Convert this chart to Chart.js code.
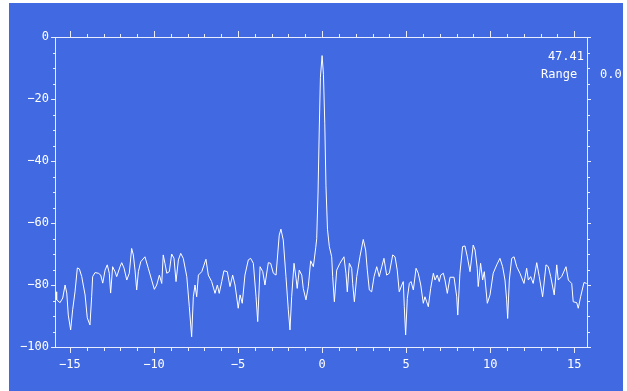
<!DOCTYPE html>
<html>
<head>
<meta charset="utf-8">
<title>Spectrum</title>
<script src="https://cdn.jsdelivr.net/npm/chart.js@4.4.1/dist/chart.umd.min.js"></script>
<style>
  html, body { margin: 0; padding: 0; background: #ffffff; }
  #wrap {
    position: absolute;
    left: 9px;
    top: 3px;
    width: 614px;
    height: 388px;
    background: #4169e1;
  }
</style>
</head>
<body>
<div id="wrap"><canvas id="spectrumChart"></canvas></div>
<script>
// --- DATA ---
const freqs = [
  -15.83, -15.79, -15.59, -15.43, -15.29, -15.19, -15.10, -14.96, -14.84, -14.70,
  -14.56, -14.44, -14.30, -14.21, -14.10, -13.97, -13.81, -13.71, -13.65, -13.51,
  -13.31, -13.17, -13.05, -12.91, -12.78, -12.66, -12.58, -12.46, -12.32, -12.22,
  -12.02, -11.92, -11.78, -11.62, -11.47, -11.33, -11.23, -11.13, -11.03, -10.93,
  -10.79, -10.54, -10.34, -10.14, -9.98, -9.84, -9.68, -9.54, -9.45, -9.35,
  -9.24, -9.09, -8.95, -8.81, -8.69, -8.55, -8.41, -8.26, -8.05, -7.90,
  -7.76, -7.66, -7.56, -7.46, -7.36, -7.16, -6.91, -6.77, -6.57, -6.37,
  -6.23, -6.12, -5.97, -5.84, -5.64, -5.48, -5.32, -5.18, -4.99, -4.88,
  -4.75, -4.59, -4.39, -4.25, -4.09, -3.93, -3.83, -3.69, -3.53, -3.40,
  -3.20, -3.06, -2.90, -2.74, -2.55, -2.45, -2.31, -2.15, -2.01, -1.91,
  -1.81, -1.67, -1.55, -1.48, -1.36, -1.21, -1.12, -0.96, -0.82, -0.68,
  -0.52, -0.38, -0.32, -0.24, -0.17, -0.10, 0.00, 0.08, 0.16, 0.23,
  0.32, 0.43, 0.57, 0.63, 0.73, 0.87, 1.06, 1.30, 1.42, 1.50,
  1.62, 1.76, 1.82, 1.92, 2.06, 2.25, 2.45, 2.59, 2.69, 2.81,
  2.95, 3.09, 3.25, 3.40, 3.55, 3.68, 3.84, 4.00, 4.20, 4.34,
  4.47, 4.59, 4.74, 4.83, 4.89, 4.97, 5.07, 5.19, 5.29, 5.43,
  5.59, 5.72, 5.87, 6.02, 6.12, 6.22, 6.32, 6.46, 6.62, 6.72,
  6.85, 6.97, 7.06, 7.21, 7.31, 7.45, 7.61, 7.85, 8.01, 8.07,
  8.20, 8.36, 8.50, 8.64, 8.80, 8.99, 9.10, 9.23, 9.29, 9.43,
  9.55, 9.65, 9.83, 9.99, 10.18, 10.39, 10.58, 10.74, 10.88, 10.98,
  11.04, 11.14, 11.28, 11.42, 11.58, 11.77, 12.01, 12.17, 12.27, 12.41,
  12.56, 12.77, 12.92, 13.12, 13.32, 13.46, 13.60, 13.81, 13.96, 14.05,
  14.25, 14.51, 14.65, 14.85, 14.94, 15.15, 15.24, 15.38, 15.58, 15.74
];

const levels = [
  -82.2, -84.8, -85.7, -84.2, -80.0, -82.6, -89.7, -94.5, -88.0, -82.2,
  -74.5, -74.8, -77.3, -80.0, -83.2, -90.6, -92.9, -83.8, -77.3, -76.0,
  -76.2, -76.8, -79.4, -75.2, -73.5, -76.2, -82.6, -74.1, -75.7, -77.3,
  -74.1, -72.8, -74.6, -78.4, -76.2, -68.2, -70.3, -75.2, -81.6, -75.7,
  -72.5, -70.9, -74.6, -78.4, -81.4, -80.0, -76.8, -79.5, -70.3, -73.0,
  -76.2, -75.7, -70.0, -71.4, -78.9, -71.9, -69.8, -71.4, -77.3, -87.0,
  -96.7, -83.8, -80.0, -83.8, -76.8, -75.7, -71.7, -76.8, -78.9, -82.7,
  -80.0, -82.7, -78.9, -75.4, -75.7, -80.5, -76.8, -80.0, -87.5, -83.2,
  -85.9, -76.8, -71.9, -71.4, -73.0, -83.8, -91.8, -74.1, -75.7, -80.0,
  -72.8, -73.0, -76.2, -76.8, -63.9, -62.0, -65.5, -77.3, -88.0, -94.5,
  -83.8, -73.0, -77.8, -81.1, -75.2, -76.8, -81.1, -84.8, -80.5, -72.2,
  -74.1, -68.0, -65.0, -50.0, -30.0, -13.0, -6.0, -12.0, -28.0, -48.0,
  -62.0, -67.6, -70.9, -77.3, -85.4, -75.2, -73.0, -70.9, -76.2, -82.2,
  -73.0, -74.6, -79.5, -85.4, -77.3, -70.9, -65.3, -68.7, -75.2, -81.6,
  -82.2, -77.3, -74.1, -77.3, -74.1, -71.4, -76.8, -76.2, -70.3, -70.9,
  -75.2, -82.2, -80.0, -78.9, -87.0, -96.1, -84.3, -79.5, -78.9, -81.6,
  -74.6, -76.2, -80.0, -85.9, -83.8, -85.4, -87.0, -81.1, -76.2, -78.4,
  -76.8, -78.9, -76.8, -76.2, -78.4, -82.7, -77.5, -77.5, -83.8, -89.7,
  -76.2, -67.6, -67.4, -70.9, -75.7, -67.1, -68.7, -74.6, -80.5, -73.0,
  -78.4, -75.7, -85.9, -83.2, -76.2, -73.5, -71.4, -74.1, -78.4, -84.8,
  -90.8, -78.4, -71.4, -70.9, -74.1, -76.2, -79.5, -74.6, -78.4, -77.3,
  -79.5, -72.8, -77.3, -83.8, -73.5, -74.1, -77.3, -83.2, -73.5, -78.4,
  -77.3, -74.1, -78.4, -79.5, -85.4, -85.7, -87.5, -83.8, -79.2, -79.5
];

const xLabelTicks = [-15, -10, -5, 0, 5, 10, 15];
const yLabelTicks = [0, -20, -40, -60, -80, -100];
const readoutValue = "47.41";
const readoutName = "Range";
const readoutSecond = "0.0";

// --- STYLE ---
const AXIS_COLOR = "#e8edff";
const TEXT_COLOR = "#ffffff";
const FONT = "DejaVu Sans Mono";

Chart.defaults.font.family = FONT;
Chart.defaults.font.size = 12;
Chart.defaults.color = TEXT_COLOR;

const minus = v => String(v).replace("-", "\u2212");

// ticks on all four sides of the frame, majors longer
const frameTicks = {
  id: "frameTicks",
  afterDraw(chart) {
    const { ctx, chartArea: a, scales: { x, y } } = chart;
    ctx.save();
    ctx.strokeStyle = AXIS_COLOR;
    ctx.lineWidth = 1;
    ctx.beginPath();
    // top + right border
    ctx.moveTo(a.left, a.top + 0.5);
    ctx.lineTo(a.right + 1.5, a.top + 0.5);
    ctx.moveTo(a.right + 0.5, a.top);
    ctx.lineTo(a.right + 0.5, a.bottom + 1);

    x.ticks.forEach(t => {
      const px = Math.round(x.getPixelForValue(t.value)) + 0.5;
      const major = xLabelTicks.includes(t.value);
      ctx.moveTo(px, a.bottom);
      ctx.lineTo(px, a.bottom + (major ? 6 : 4));
      ctx.moveTo(px, a.top);
      ctx.lineTo(px, a.top - (major ? 6 : 3));
    });
    y.ticks.forEach(t => {
      const py = Math.round(y.getPixelForValue(t.value)) + 0.5;
      const major = yLabelTicks.includes(t.value);
      ctx.moveTo(a.left, py);
      ctx.lineTo(a.left - (major ? 4 : 2), py);
      ctx.moveTo(a.right, py);
      ctx.lineTo(a.right + (major ? 4 : 3), py);
    });
    ctx.stroke();

    // readout text in the top right corner
    ctx.fillStyle = TEXT_COLOR;
    ctx.font = "12px " + FONT;
    ctx.textBaseline = "alphabetic";
    ctx.textAlign = "right";
    ctx.fillText(readoutValue, a.right - 3, a.top + 23);
    ctx.textAlign = "left";
    ctx.fillText(readoutName, a.right - 46, a.top + 41);
    ctx.fillText(readoutSecond, a.right + 13, a.top + 41);
    ctx.restore();
  }
};

// --- CHART ---
const spectrumChart = new Chart(document.getElementById("spectrumChart"), {
  type: "line",
  data: {
    datasets: [{
      data: freqs.map((f, i) => ({ x: f, y: levels[i] })),
      borderColor: "#ffffff",
      borderWidth: 1,
      pointRadius: 0,
      tension: 0,
      fill: false
    }]
  },
  options: {
    responsive: true,
    maintainAspectRatio: false,
    animation: false,
    layout: { padding: { top: 34, right: 36, left: 0, bottom: 0 } },
    plugins: { legend: { display: false }, tooltip: { enabled: false } },
    scales: {
      x: {
        type: "linear",
        min: -15.89,
        max: 15.76,
        afterFit: s => { s.height = 44; },
        grid: { display: false, drawTicks: false, tickLength: 0 },
        border: { display: true, color: AXIS_COLOR, width: 1 },
        ticks: {
          stepSize: 1,
          includeBounds: false,
          autoSkip: false,
          maxRotation: 0,
          padding: 11,
          color: TEXT_COLOR,
          callback: v => xLabelTicks.includes(v) ? minus(v) : ""
        }
      },
      y: {
        min: -100,
        max: 0,
        afterFit: s => { s.width = 46; },
        grid: { display: false, drawTicks: false, tickLength: 0 },
        border: { display: true, color: AXIS_COLOR, width: 1 },
        ticks: {
          stepSize: 5,
          autoSkip: false,
          padding: 6,
          color: TEXT_COLOR,
          callback: v => yLabelTicks.includes(v) ? minus(v) : ""
        }
      }
    }
  },
  plugins: [frameTicks]
});
</script>
</body>
</html>
